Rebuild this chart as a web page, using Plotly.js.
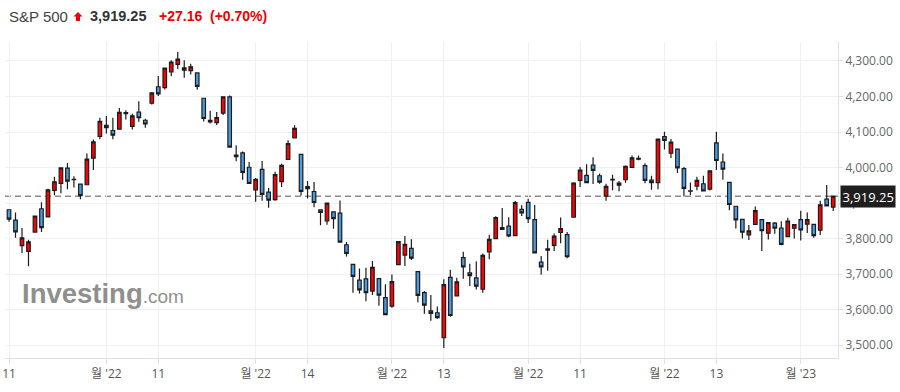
<!DOCTYPE html>
<html>
<head>
<meta charset="utf-8">
<script src="https://cdn.plot.ly/plotly-3.0.1.min.js"></script>
<style>html,body{margin:0;padding:0;background:#fff;}#chart{width:900px;height:392px;}</style>
</head>
<body>
<div id="chart"></div>
<script>
// Daily sessions (x categories)
const dates = [
"2022-07-11","2022-07-12","2022-07-13","2022-07-14","2022-07-15","2022-07-18","2022-07-19","2022-07-20","2022-07-21","2022-07-22","2022-07-25","2022-07-26","2022-07-27","2022-07-28","2022-07-29",
"2022-08-01","2022-08-02","2022-08-03","2022-08-04","2022-08-05","2022-08-08","2022-08-09","2022-08-10","2022-08-11","2022-08-12","2022-08-15","2022-08-16","2022-08-17","2022-08-18","2022-08-19","2022-08-22","2022-08-23","2022-08-24","2022-08-25","2022-08-26","2022-08-29","2022-08-30","2022-08-31",
"2022-09-01","2022-09-02","2022-09-06","2022-09-07","2022-09-08","2022-09-09","2022-09-12","2022-09-13","2022-09-14","2022-09-15","2022-09-16","2022-09-19","2022-09-20","2022-09-21","2022-09-22","2022-09-23","2022-09-26","2022-09-27","2022-09-28","2022-09-29","2022-09-30",
"2022-10-03","2022-10-04","2022-10-05","2022-10-06","2022-10-07","2022-10-10","2022-10-11","2022-10-12","2022-10-13","2022-10-14","2022-10-17","2022-10-18","2022-10-19","2022-10-20","2022-10-21","2022-10-24","2022-10-25","2022-10-26","2022-10-27","2022-10-28","2022-10-31",
"2022-11-01","2022-11-02","2022-11-03","2022-11-04","2022-11-07","2022-11-08","2022-11-09","2022-11-10","2022-11-11","2022-11-14","2022-11-15","2022-11-16","2022-11-17","2022-11-18","2022-11-21","2022-11-22","2022-11-23","2022-11-25","2022-11-28","2022-11-29","2022-11-30",
"2022-12-01","2022-12-02","2022-12-05","2022-12-06","2022-12-07","2022-12-08","2022-12-09","2022-12-12","2022-12-13","2022-12-14","2022-12-15","2022-12-16","2022-12-19","2022-12-20","2022-12-21","2022-12-22","2022-12-23","2022-12-27","2022-12-28","2022-12-29","2022-12-30",
"2023-01-03","2023-01-04","2023-01-05","2023-01-06","2023-01-09","2023-01-10"];

const openPrices = [
3880.94,3851.95,3779.67,3763.99,3818.00,3883.79,3860.73,3935.32,3955.47,3998.43,3965.72,3953.22,3951.43,4026.13,4087.33,
4112.38,4104.21,4107.96,4154.85,4115.87,4155.93,4133.11,4181.02,4227.40,4225.02,4269.37,4290.46,4280.40,4273.13,4266.31,4195.08,4133.09,4126.55,4153.26,4198.74,4034.58,4041.25,4000.67,
3936.73,3994.66,3930.89,3909.43,3959.94,4022.94,4083.67,4037.12,3940.73,3932.41,3880.95,3849.91,3875.23,3871.40,3782.36,3727.14,3682.72,3686.44,3651.94,3687.01,3633.48,
3609.78,3726.46,3753.25,3771.97,3706.74,3647.51,3595.86,3590.83,3520.37,3690.41,3638.65,3746.26,3703.11,3689.05,3657.10,3762.01,3799.44,3825.97,3834.69,3808.26,3881.85,
3901.79,3852.90,3733.25,3766.98,3780.71,3817.02,3810.94,3859.89,3963.72,3977.97,4006.41,3976.82,3919.26,3966.39,3956.23,3965.51,4000.30,4023.34,4005.36,3964.19,3957.18,
4087.14,4040.17,4052.02,3996.63,3933.28,3947.79,3954.17,3939.29,4069.38,4015.54,3958.37,3890.91,3853.79,3810.47,3839.49,3853.26,3815.11,3843.34,3829.56,3805.45,3829.06,
3853.29,3840.36,3839.74,3823.37,3910.82,3888.57];

const highPrices = [
3880.94,3873.41,3829.44,3796.41,3863.62,3902.44,3939.81,3974.13,3999.29,4012.44,3975.30,3953.22,4039.56,4078.95,4140.15,
4144.95,4140.47,4167.66,4161.29,4151.58,4186.62,4137.30,4211.03,4257.91,4280.47,4301.79,4325.28,4302.18,4292.53,4266.31,4195.08,4159.77,4156.56,4200.54,4203.04,4062.99,4044.98,4015.37,
3970.23,4018.43,3942.55,3987.89,4010.50,4076.81,4119.28,4037.12,3961.94,3959.14,3880.95,3900.45,3876.01,3907.07,3790.20,3727.14,3715.67,3717.53,3736.74,3687.01,3671.44,
3698.35,3791.92,3806.91,3797.93,3706.74,3652.17,3640.66,3608.34,3685.41,3712.00,3689.73,3762.79,3728.58,3736.00,3757.89,3810.74,3862.85,3886.15,3859.95,3905.42,3893.73,
3911.79,3894.44,3750.59,3796.34,3813.95,3859.40,3818.20,3958.33,4001.48,4008.97,4028.84,3983.09,3954.33,3979.89,3962.00,4005.88,4033.78,4034.02,4012.27,3976.77,4080.11,
4100.51,4080.48,4052.45,4001.51,3957.57,3974.19,3977.02,3990.71,4100.96,4039.69,3958.37,3890.91,3854.86,3838.24,3889.82,3853.26,3845.80,3846.65,3848.32,3858.19,3839.85,
3878.46,3873.16,3839.74,3906.19,3950.57,3919.83];

const lowPrices = [
3847.22,3802.36,3759.07,3721.56,3817.18,3818.63,3860.73,3922.03,3927.64,3938.85,3943.46,3910.74,3951.43,3992.97,4079.22,
4096.02,4079.81,4107.96,4135.42,4107.31,4128.97,4112.09,4177.26,4201.41,4219.78,4256.90,4277.77,4253.08,4261.98,4218.70,4129.86,4124.03,4119.97,4147.59,4057.66,4017.42,3965.21,3954.53,
3903.65,3906.21,3886.75,3906.03,3944.81,4022.94,4083.67,3921.46,3912.70,3888.28,3837.08,3838.50,3827.54,3789.49,3749.45,3647.47,3644.76,3623.29,3640.61,3610.40,3584.13,
3604.93,3726.46,3722.66,3739.22,3620.73,3588.10,3568.45,3573.86,3491.58,3579.68,3638.65,3686.53,3666.51,3656.44,3647.42,3741.65,3799.44,3824.07,3803.79,3808.26,3863.18,
3843.80,3758.68,3698.15,3708.84,3764.70,3786.28,3744.22,3859.89,3944.82,3956.40,3953.17,3954.34,3906.54,3935.98,3933.34,3956.88,3998.66,4020.76,3955.77,3937.65,3938.58,
4050.87,4026.63,3984.49,3918.39,3922.68,3935.83,3933.04,3935.30,3993.03,3965.65,3879.45,3827.91,3800.04,3795.62,3839.49,3764.49,3797.01,3813.22,3780.78,3805.45,3800.34,
3794.33,3815.77,3802.42,3809.56,3890.42,3877.29];

const closePrices = [
3854.43,3818.80,3801.78,3790.38,3863.16,3830.85,3936.69,3959.90,3998.95,3961.63,3966.84,3921.05,4023.61,4072.43,4130.29,
4118.63,4091.19,4155.17,4151.94,4145.19,4140.06,4122.47,4210.24,4207.27,4280.15,4297.14,4305.20,4274.04,4283.74,4228.48,4137.99,4128.73,4140.77,4199.12,4057.66,4030.61,3986.16,3955.00,
3966.85,3924.26,3908.19,3979.87,4006.18,4067.36,4110.41,3932.69,3946.01,3901.35,3873.33,3899.89,3855.93,3789.93,3757.99,3693.23,3655.04,3647.29,3719.04,3640.47,3585.62,
3678.43,3790.93,3783.28,3744.52,3639.66,3612.39,3588.84,3577.03,3669.91,3583.07,3677.95,3719.98,3695.16,3665.78,3752.75,3797.34,3859.11,3830.60,3807.30,3901.06,3871.98,
3856.10,3759.69,3719.89,3770.55,3806.80,3828.11,3748.57,3956.37,3992.93,3957.25,3991.73,3958.79,3946.56,3965.34,3949.94,4003.58,4027.26,4026.12,3963.94,3957.63,4080.11,
4076.57,4071.70,3998.84,3941.26,3933.92,3963.51,3934.38,3990.56,4019.65,3995.32,3895.75,3852.36,3817.66,3821.62,3878.44,3822.39,3844.82,3829.25,3783.22,3849.28,3839.50,
3824.14,3852.97,3808.10,3895.08,3892.09,3919.25];

const tickDates = ["2022-07-11","2022-08-01","2022-08-11","2022-09-01","2022-09-14","2022-10-03","2022-10-13","2022-11-01","2022-11-11","2022-12-01","2022-12-13","2023-01-03"];
const tickLabels = ["11","월 '22","11","월 '22","14","월 '22","13","월 '22","11","월 '22","13","월 '23"];

const seriesName = "S&P 500";

// ---- derived header values
const last = closePrices[closePrices.length - 1];
const prev = closePrices[closePrices.length - 2];
const chg = last - prev;
const pct = chg / prev * 100;
const fmt = v => v.toLocaleString('en-US', {minimumFractionDigits: 2, maximumFractionDigits: 2});
const sign = v => (v >= 0 ? '+' : '');

// pixel helpers for decorations (plot area: x 5..838, y 42..358)
const L = 5, R = 62, T = 42, B = 34, W = 900, H = 392;
const pw = W - L - R, ph = H - T - B;
const px = x => (x - L) / pw;
const py = y => (H - B - y) / ph;

const FONT = "'Open Sans', 'Noto Sans CJK KR', sans-serif";
const HFONT = "'Liberation Sans', Arial, sans-serif";

const trace = {
  type: 'candlestick',
  x: dates,
  open: openPrices, high: highPrices, low: lowPrices, close: closePrices,
  increasing: {line: {color: '#1c1c1c', width: 1.2}, fillcolor: '#ff0000'},
  decreasing: {line: {color: '#1c1c1c', width: 1.2}, fillcolor: '#4a9ce2'},
  whiskerwidth: 0,
  hoverinfo: 'none',
  showlegend: false
};

const layout = {
  width: W, height: H,
  margin: {l: L, r: R, t: T, b: B, pad: 0},
  paper_bgcolor: '#ffffff', plot_bgcolor: '#ffffff',
  showlegend: false,
  boxgap: 0.22,
  xaxis: {
    type: 'category',
    range: [-0.62, dates.length - 1 + 0.74],
    tickmode: 'array', tickvals: tickDates, ticktext: tickLabels,
    showgrid: true, gridcolor: '#f0f0f3', gridwidth: 1,
    showline: true, linecolor: '#dfdfe5', linewidth: 1,
    ticks: 'outside', ticklen: 5, tickcolor: '#dfdfe5',
    tickfont: {family: FONT, size: 12, color: '#555'},
    rangeslider: {visible: false},
    zeroline: false, fixedrange: true, automargin: false
  },
  yaxis: {
    side: 'right',
    range: [3463.4, 4353.5],
    tick0: 0, dtick: 100,
    tickformat: ',.2f',
    showgrid: true, gridcolor: '#f0f0f3', gridwidth: 1,
    showline: true, linecolor: '#dfdfe5', linewidth: 1,
    ticks: 'outside', ticklen: 4, tickcolor: '#dfdfe5',
    tickfont: {family: FONT, size: 12, color: '#666'},
    zeroline: false, fixedrange: true, automargin: false
  },
  shapes: [
    {type: 'line', xref: 'paper', yref: 'y', x0: 0, x1: 1, y0: last, y1: last,
     line: {color: '#8c8c8c', width: 1.5, dash: '6px,4px'}, layer: 'below'},
    {type: 'path', xref: 'paper', yref: 'paper', xsizemode: 'pixel', ysizemode: 'pixel',
     xanchor: px(78), yanchor: py(16.5),
     path: 'M0,4.5 L4.5,0 L2,0 L2,-4.5 L-2,-4.5 L-2,0 L-4.5,0 Z',
     fillcolor: '#ee0000', line: {width: 0}}
  ],
  annotations: [
    {xref: 'paper', yref: 'paper', x: px(7), y: py(16), xanchor: 'left', yanchor: 'middle',
     text: seriesName, showarrow: false, font: {family: HFONT, size: 15, color: '#444'}},
    {xref: 'paper', yref: 'paper', x: px(88), y: py(16), xanchor: 'left', yanchor: 'middle',
     text: '<b>' + fmt(last) + '</b>', showarrow: false, font: {family: HFONT, size: 14.5, color: '#333'}},
    {xref: 'paper', yref: 'paper', x: px(157), y: py(16), xanchor: 'left', yanchor: 'middle',
     text: '<b>' + sign(chg) + fmt(chg) + '&nbsp; (' + sign(pct) + pct.toFixed(2) + '%)</b>', showarrow: false,
     font: {family: HFONT, size: 14, color: '#ee0000'}},
    {xref: 'paper', yref: 'y', x: 1, y: last, xanchor: 'left', yanchor: 'middle', xshift: 2,
     text: fmt(last), showarrow: false, bgcolor: '#1f1f1f', borderpad: 1.5,
     font: {family: FONT, size: 13, color: '#ffffff'}},
    {xref: 'paper', yref: 'paper', x: px(20), y: py(293), xanchor: 'left', yanchor: 'middle',
     text: '<b>Investing</b><span style="font-size:19px;">.com</span>', showarrow: false,
     font: {family: HFONT, size: 27.5, color: '#8f8f8f'}}
  ]
};

Plotly.newPlot('chart', [trace], layout, {staticPlot: true, displayModeBar: false});
</script>
</body>
</html>
